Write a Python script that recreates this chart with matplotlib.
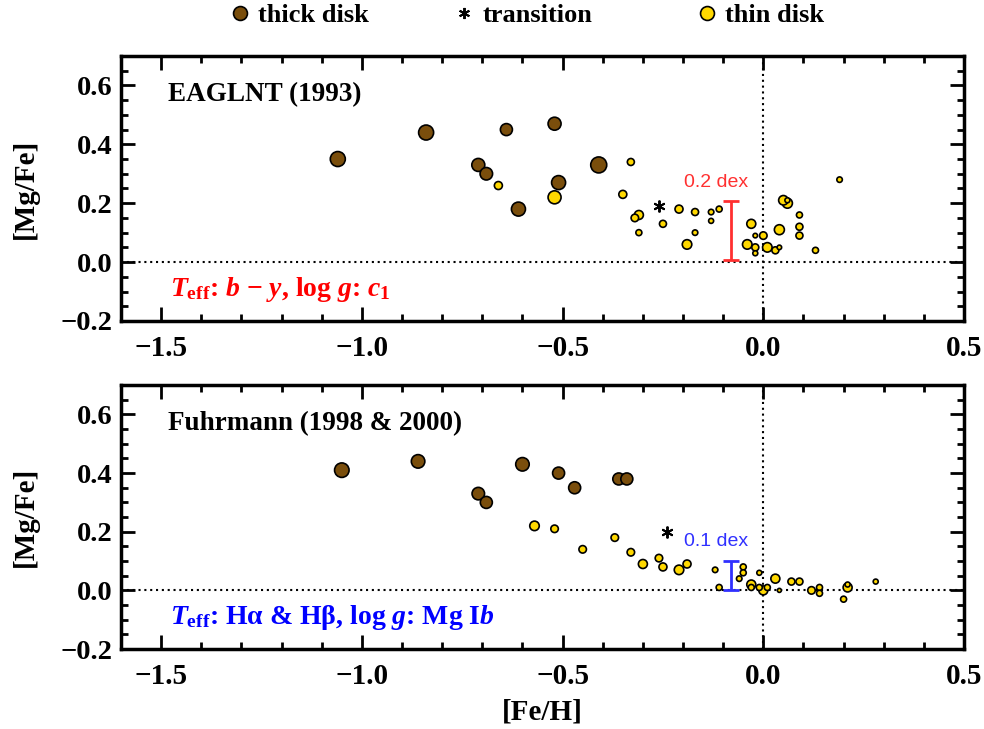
import matplotlib
matplotlib.use('Agg')
import matplotlib.pyplot as plt
from matplotlib.lines import Line2D
from matplotlib.ticker import MultipleLocator

plt.rcParams['font.family'] = ['Liberation Serif', 'DejaVu Serif']
plt.rcParams['font.weight'] = 'bold'
plt.rcParams['axes.labelweight'] = 'bold'
plt.rcParams['mathtext.fontset'] = 'custom'
plt.rcParams['mathtext.rm'] = 'Liberation Serif:bold'
plt.rcParams['mathtext.it'] = 'Liberation Serif:bold:italic'
plt.rcParams['mathtext.bf'] = 'Liberation Serif:bold'

BROWN = '#7a4e0c'
YELLOW = '#ffd800'

# EAGLNT (1993) sample
eag_thick_feh = [-1.06, -0.84, -0.64, -0.52, -0.71, -0.69, -0.61, -0.51, -0.41]
eag_thick_mgfe = [0.35, 0.44, 0.45, 0.47, 0.33, 0.30, 0.18, 0.27, 0.33]
eag_thick_dia = [15, 15, 12, 13, 13, 12.5, 14, 14, 16]

eag_thin_feh = [-0.66, -0.52, -0.33, -0.35, -0.31, -0.32, -0.31, -0.25, -0.21, -0.17,
                -0.17, -0.19, -0.13, -0.13, -0.11, -0.03, -0.04, -0.02, 0.00, -0.02,
                -0.02, 0.01, 0.03, 0.04, 0.04, 0.05, 0.06, 0.06, 0.09, 0.09,
                0.09, 0.13, 0.19]
eag_thin_mgfe = [0.26, 0.22, 0.34, 0.23, 0.16, 0.15, 0.10, 0.13, 0.18, 0.17,
                 0.10, 0.06, 0.17, 0.14, 0.18, 0.13, 0.06, 0.09, 0.09, 0.05,
                 0.03, 0.05, 0.04, 0.05, 0.11, 0.21, 0.20, 0.21, 0.16, 0.12,
                 0.09, 0.04, 0.28]
eag_thin_dia = [8, 13, 7, 8, 9, 7.5, 6, 7, 8, 7,
                5.5, 9.5, 5.5, 5, 6, 9, 9.5, 4.5, 7.5, 7,
                5, 9.5, 7, 4.5, 10, 9.5, 10, 5, 6, 7,
                7, 6, 5.5]

eag_trans_feh = [-0.26]
eag_trans_mgfe = [0.19]

# Fuhrmann (1998 & 2000) sample
fuh_thick_feh = [-1.05, -0.86, -0.60, -0.71, -0.69, -0.51, -0.47, -0.36, -0.34]
fuh_thick_mgfe = [0.41, 0.44, 0.43, 0.33, 0.30, 0.40, 0.35, 0.38, 0.38]
fuh_thick_dia = [14.5, 13.5, 13.5, 12.5, 12, 12, 12, 12, 12]

fuh_thin_feh = [-0.57, -0.52, -0.45, -0.37, -0.33, -0.30, -0.26, -0.25, -0.21, -0.19,
                -0.12, -0.11, -0.05, -0.05, -0.06, -0.03, -0.03, -0.01, -0.01, 0.00,
                0.01, 0.03, 0.04, 0.07, 0.09, 0.12, 0.14, 0.14, 0.20, 0.21,
                0.21, 0.28]
fuh_thin_mgfe = [0.22, 0.21, 0.14, 0.18, 0.13, 0.09, 0.11, 0.08, 0.07, 0.09,
                 0.07, 0.01, 0.08, 0.06, 0.04, 0.02, 0.01, 0.06, 0.01, 0.00,
                 0.01, 0.04, 0.00, 0.03, 0.03, 0.00, 0.01, -0.01, -0.03, 0.01,
                 0.02, 0.03]
fuh_thin_dia = [9.5, 7.5, 7.5, 7.5, 7.5, 9, 7.5, 8, 9.5, 8,
                5.5, 6, 6, 6, 5.5, 9, 6, 5, 6, 9,
                6, 9, 4, 7, 7, 7.5, 6, 6, 6, 9,
                5, 5]

fuh_trans_feh = [-0.24]
fuh_trans_mgfe = [0.20]

DOTS = (0, (1, 1.8))


def sizes(dia):
    # symbol diameters are in pixels; scatter wants points^2
    return [(0.72 * d) ** 2 for d in dia]


def draw_sample(ax, feh, mgfe, dia, color):
    order = sorted(range(len(feh)), key=lambda i: -dia[i])
    ax.scatter([feh[i] for i in order], [mgfe[i] for i in order],
               s=sizes([dia[i] for i in order]), c=color,
               edgecolors='black', linewidths=1.2, zorder=3)


def panel(ax, thick, thin, trans, title, note, note_color,
          bar_y, bar_err, bar_color, bar_label, label_y):
    ax.axhline(0, color='black', ls=DOTS, lw=1.5, zorder=1)
    ax.axvline(0, color='black', ls=DOTS, lw=1.5, zorder=1)
    draw_sample(ax, *thick, BROWN)
    draw_sample(ax, *thin, YELLOW)
    ax.plot(trans[0], trans[1], ls='none', marker=(6, 2, 0), ms=8.5,
            mew=1.4, color='black', zorder=4)

    ax.errorbar([-0.08], [bar_y], yerr=[bar_err], color=bar_color,
                lw=2, capsize=6, capthick=2, zorder=2)
    ax.text(-0.198, label_y, bar_label, color=bar_color, fontsize=14,
            family='Liberation Sans', weight='normal', va='center')

    ax.text(0.056, 0.855, title, transform=ax.transAxes, fontsize=19.5,
            va='center', ha='left')
    ax.text(0.058, 0.12, note, transform=ax.transAxes, fontsize=20,
            va='center', ha='left', color=note_color)

    ax.set_xlim(-1.6, 0.5)
    ax.set_ylim(-0.2, 0.7)
    ax.xaxis.set_major_locator(MultipleLocator(0.5))
    ax.xaxis.set_minor_locator(MultipleLocator(0.1))
    ax.yaxis.set_major_locator(MultipleLocator(0.2))
    ax.yaxis.set_minor_locator(MultipleLocator(0.05))
    ax.tick_params(which='both', direction='in', top=True, right=True, width=2)
    ax.tick_params(which='major', length=10)
    ax.tick_params(which='minor', length=5)
    ax.tick_params(axis='x', pad=10, labelsize=21)
    ax.tick_params(axis='y', pad=6, labelsize=20.5)
    for sp in ax.spines.values():
        sp.set_linewidth(2.5)
    ax.set_ylabel('[Mg/Fe]', fontsize=21, labelpad=16)


fig = plt.figure(figsize=(9.84, 7.29), dpi=100)
ax1 = fig.add_axes([0.123, 0.5597, 0.8567, 0.3635])
ax2 = fig.add_axes([0.123, 0.1097, 0.8567, 0.362])

panel(ax1,
      (eag_thick_feh, eag_thick_mgfe, eag_thick_dia),
      (eag_thin_feh, eag_thin_mgfe, eag_thin_dia),
      (eag_trans_feh, eag_trans_mgfe),
      'EAGLNT (1993)',
      r'$T_{\mathrm{eff}}$: $b$ $-$ $y$, log $g$: $c_1$', 'red',
      0.108, 0.1, '#ff3030', '0.2 dex', 0.27)

panel(ax2,
      (fuh_thick_feh, fuh_thick_mgfe, fuh_thick_dia),
      (fuh_thin_feh, fuh_thin_mgfe, fuh_thin_dia),
      (fuh_trans_feh, fuh_trans_mgfe),
      'Fuhrmann (1998 & 2000)',
      r'$T_{\mathrm{eff}}$: Hα & Hβ, log $g$: Mg I$b$', 'blue',
      0.05, 0.05, '#3030ff', '0.1 dex', 0.166)
ax2.set_xlabel('[Fe/H]', fontsize=21, labelpad=6)

# one legend entry per group, spread across the top
legend_entries = [
    (Line2D([], [], ls='none', marker='o', ms=10, mfc=BROWN, mec='black', mew=1.2),
     'thick disk', 0.2211),
    (Line2D([], [], ls='none', marker=(6, 2, 0), ms=8, mew=1.4, color='black'),
     'transition', 0.4488),
    (Line2D([], [], ls='none', marker='o', ms=10, mfc=YELLOW, mec='black', mew=1.2),
     'thin disk', 0.6957),
]
for handle, label, x in legend_entries:
    fig.legend([handle], [label], loc='center left', bbox_to_anchor=(x, 0.979),
               borderaxespad=0, frameon=False, fontsize=19, handlelength=0.9,
               handletextpad=0.25)

fig.savefig('out.png', dpi=100)
